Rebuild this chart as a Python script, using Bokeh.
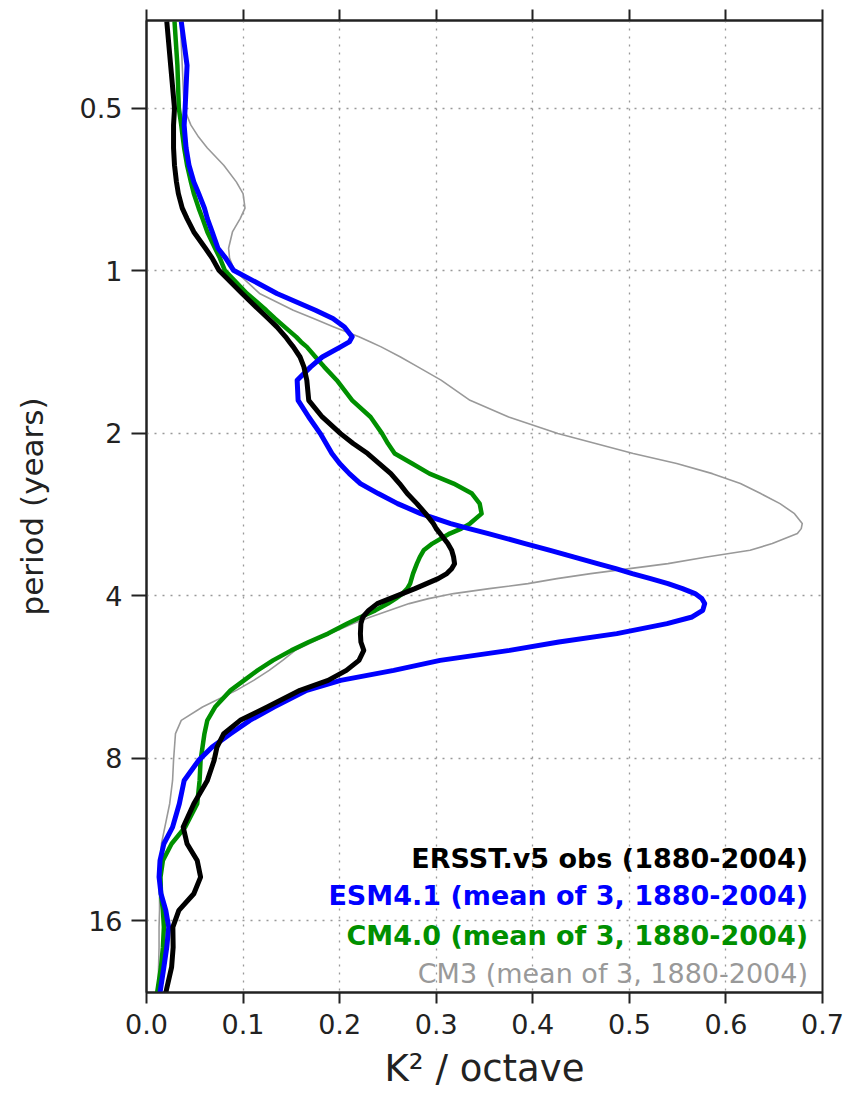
from bokeh.plotting import figure
from bokeh.models import Range1d, FixedTicker, LinearAxis, PrintfTickFormatter, Label
from bokeh.embed import file_html
from bokeh.resources import INLINE

# Period (years) at which each spectrum is sampled
period = [0.345, 0.416, 0.500, 0.537, 0.565, 0.592, 0.637, 0.684, 0.719, 0.765,
          0.800, 0.847, 0.908, 0.947, 0.997, 1.101, 1.183, 1.225, 1.270, 1.325,
          1.354, 1.383, 1.444, 1.506, 1.594, 1.737, 1.865, 2.002, 2.089, 2.180,
          2.275, 2.375, 2.478, 2.586, 2.699, 2.817, 2.939, 3.003, 3.067, 3.201,
          3.294, 3.390, 3.487, 3.562, 3.638, 3.717, 3.797, 3.879, 3.962, 4.048,
          4.135, 4.256, 4.378, 4.503, 4.700, 4.872, 5.048, 5.268, 5.497, 5.737,
          5.987, 6.429, 6.804, 7.203, 7.626, 8.072, 8.792, 9.711, 10.73, 11.52,
          12.37, 13.28, 14.26, 15.31, 16.44, 17.91, 19.50, 21.73]

# Spectral power, K^2 per octave
ersst_obs = [0.021, 0.025, 0.029, 0.028, 0.028, 0.028, 0.029, 0.031, 0.033, 0.037,
             0.042, 0.049, 0.061, 0.068, 0.075, 0.099, 0.117, 0.126, 0.135, 0.144,
             0.148, 0.152, 0.159, 0.163, 0.166, 0.168, 0.182, 0.201, 0.214, 0.229,
             0.241, 0.253, 0.262, 0.270, 0.280, 0.289, 0.297, 0.300, 0.304, 0.312,
             0.316, 0.318, 0.319, 0.316, 0.311, 0.302, 0.290, 0.278, 0.265, 0.252,
             0.239, 0.230, 0.224, 0.222, 0.2215, 0.222, 0.225, 0.220, 0.207, 0.188,
             0.159, 0.125, 0.097, 0.080, 0.073, 0.070, 0.063, 0.049, 0.038, 0.042,
             0.0525, 0.056, 0.049, 0.0335, 0.0273, 0.0276, 0.026, 0.020]

esm41 = [0.036, 0.042, 0.040, 0.039, 0.040, 0.041, 0.044, 0.049, 0.054, 0.060,
         0.063, 0.068, 0.074, 0.082, 0.090, 0.135, 0.175, 0.193, 0.205, 0.213,
         0.210, 0.201, 0.182, 0.170, 0.156, 0.157, 0.168, 0.180, 0.186, 0.192,
         0.200, 0.210, 0.2215, 0.240, 0.260, 0.284, 0.315, 0.334, 0.354, 0.392,
         0.418, 0.443, 0.467, 0.486, 0.503, 0.522, 0.540, 0.555, 0.568, 0.575,
         0.578, 0.576, 0.565, 0.539, 0.487, 0.427, 0.376, 0.304, 0.256, 0.201,
         0.166, 0.132, 0.107, 0.087, 0.068, 0.054, 0.039, 0.034, 0.027, 0.018,
         0.014, 0.013, 0.015, 0.020, 0.023, 0.021, 0.018, 0.014]

cm40 = [0.029, 0.032, 0.0335, 0.036, 0.0375, 0.039, 0.042, 0.046, 0.049, 0.054,
        0.058, 0.063, 0.071, 0.076, 0.081, 0.104, 0.124, 0.133, 0.143, 0.155,
        0.160, 0.166, 0.175, 0.184, 0.197, 0.213, 0.232, 0.244, 0.250, 0.257,
        0.275, 0.293, 0.318, 0.337, 0.345, 0.347, 0.335, 0.326, 0.314, 0.296,
        0.287, 0.283, 0.280, 0.278, 0.276, 0.2745, 0.273, 0.270, 0.265, 0.258,
        0.250, 0.237, 0.222, 0.208, 0.188, 0.168, 0.150, 0.131, 0.115, 0.101,
        0.087, 0.071, 0.063, 0.060, 0.058, 0.056, 0.055, 0.0525, 0.040, 0.026,
        0.017, 0.0145, 0.015, 0.017, 0.018, 0.017, 0.015, 0.011]

cm3 = [0.035, 0.037, 0.039, 0.046, 0.054, 0.063, 0.080, 0.093, 0.100, 0.102,
       0.097, 0.089, 0.085, 0.086, 0.091, 0.117, 0.152, 0.173, 0.194, 0.220,
       0.232, 0.243, 0.263, 0.281, 0.305, 0.335, 0.375, 0.426, 0.465, 0.504,
       0.549, 0.586, 0.615, 0.636, 0.656, 0.671, 0.679, 0.678, 0.674, 0.648,
       0.625, 0.580, 0.540, 0.500, 0.460, 0.425, 0.395, 0.355, 0.318, 0.292,
       0.272, 0.252, 0.232, 0.214, 0.190, 0.172, 0.154, 0.141, 0.127, 0.111,
       0.093, 0.058, 0.036, 0.030, 0.029, 0.028, 0.027, 0.024, 0.019, 0.0155,
       0.014, 0.0138, 0.0135, 0.0135, 0.013, 0.013, 0.0125, 0.012]

x_ticks = [0.0, 0.1, 0.2, 0.3, 0.4, 0.5, 0.6, 0.7]
y_ticks = [0.5, 1, 2, 4, 8, 16]
y_tick_labels = ["0.5", "1", "2", "4", "8", "16"]

legend_rows = [
    ("ERSST.v5 obs (1880-2004)", "#000000", "bold"),
    ("ESM4.1 (mean of 3, 1880-2004)", "#0000ff", "bold"),
    ("CM4.0 (mean of 3, 1880-2004)", "#009000", "bold"),
    ("CM3 (mean of 3, 1880-2004)", "#999999", "normal"),
]

FONT = "DejaVu Sans"
INK = "#222222"

p = figure(width=844, height=1098,
           x_range=Range1d(0, 0.7), y_range=Range1d(21.73, 0.3436),
           y_axis_type="log", output_backend="svg", toolbar_location=None,
           min_border_left=146, min_border_right=22,
           min_border_top=20, min_border_bottom=106)
p.background_fill_color = "white"
p.outline_line_color = INK
p.outline_line_width = 2

# dotted grid at the labelled ticks
p.xgrid.ticker = FixedTicker(ticks=x_ticks)
p.ygrid.ticker = FixedTicker(ticks=y_ticks)
for g in (p.xgrid, p.ygrid):
    g.grid_line_color = "#999999"
    g.grid_line_width = 1.3
    g.grid_line_dash = "2 6"

# bottom axis
xa = p.xaxis[0]
xa.ticker = FixedTicker(ticks=x_ticks)
xa.formatter = PrintfTickFormatter(format="%.1f")
xa.axis_label = "K² / octave"

# left axis
ya = p.yaxis[0]
ya.ticker = FixedTicker(ticks=y_ticks)
ya.major_label_overrides = {t: s for t, s in zip(y_ticks, y_tick_labels)}
ya.axis_label = "period (years)"

for ax in (xa, ya):
    ax.axis_line_color = INK
    ax.axis_line_width = 2
    ax.major_tick_line_color = INK
    ax.major_tick_line_width = 2
    ax.major_tick_in = 0
    ax.minor_tick_line_color = None
    ax.major_label_text_font = FONT
    ax.major_label_text_font_size = "27px"
    ax.major_label_text_color = INK
    ax.axis_label_text_font = FONT
    ax.axis_label_text_font_style = "normal"
    ax.axis_label_text_color = INK

xa.major_tick_out = 11
xa.major_label_standoff = 10
xa.axis_label_standoff = 10
xa.axis_label_text_font_size = "37px"

ya.major_tick_out = 15
ya.major_label_standoff = 9
ya.axis_label_standoff = 27
ya.axis_label_text_font_size = "31px"

# top axis: unlabelled tick marks only
top = LinearAxis(ticker=FixedTicker(ticks=[], minor_ticks=x_ticks),
                 axis_line_color=INK, axis_line_width=2,
                 major_tick_line_color=None,
                 minor_tick_line_color=INK, minor_tick_line_width=2,
                 minor_tick_in=0, minor_tick_out=11)
p.add_layout(top, "above")

# spectra
p.line(cm3, period, line_color="#999999", line_width=1.6, line_join="round")
p.line(cm40, period, line_color="#009000", line_width=4.5, line_join="round")
p.line(esm41, period, line_color="#0000ff", line_width=5, line_join="round")
p.line(ersst_obs, period, line_color="#000000", line_width=5, line_join="round")

# legend text, right aligned inside the frame
legend_y = [12.27, 14.36, 17.03, 20.03]
for (txt, col, style), yy in zip(legend_rows, legend_y):
    p.add_layout(Label(x=0.685, y=yy, text=txt, text_color=col,
                       text_font=FONT, text_font_style=style,
                       text_font_size="27px", text_align="right",
                       text_baseline="middle"))

open("out.html", "w").write(file_html(p, INLINE))
